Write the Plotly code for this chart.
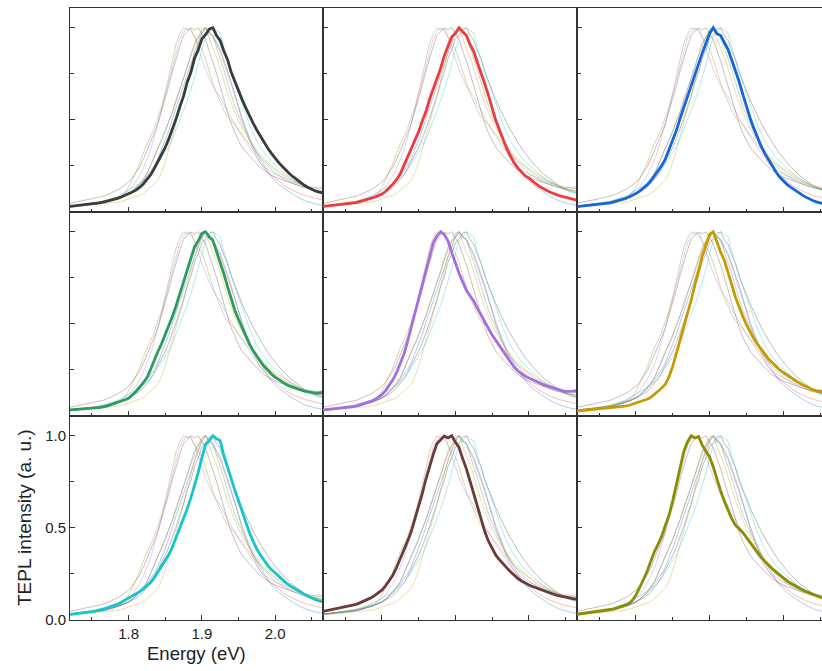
import plotly.graph_objects as go
from plotly.subplots import make_subplots

# Photon-energy sampling grid (eV)
energy = [round(1.720 + 0.005 * i, 3) for i in range(70)]

# Normalised TEPL spectra, one per tip position
tepl_grey = [0.031, 0.033, 0.034, 0.036, 0.038, 0.040, 0.043, 0.046, 0.050, 0.054,
             0.058, 0.062, 0.068, 0.074, 0.081, 0.089, 0.097, 0.108, 0.119, 0.133,
             0.152, 0.175, 0.201, 0.236, 0.272, 0.310, 0.350, 0.398, 0.448, 0.508,
             0.572, 0.629, 0.704, 0.757, 0.834, 0.879, 0.939, 0.962, 0.992, 1.000,
             0.958, 0.931, 0.874, 0.828, 0.759, 0.708, 0.652, 0.610, 0.565, 0.520,
             0.482, 0.445, 0.410, 0.378, 0.346, 0.318, 0.292, 0.268, 0.247, 0.226,
             0.206, 0.190, 0.174, 0.159, 0.145, 0.133, 0.123, 0.114, 0.108, 0.104]
tepl_red = [0.031, 0.033, 0.034, 0.036, 0.038, 0.040, 0.042, 0.045, 0.048, 0.051,
            0.056, 0.061, 0.067, 0.074, 0.080, 0.088, 0.097, 0.111, 0.130, 0.151,
            0.175, 0.207, 0.252, 0.300, 0.346, 0.390, 0.435, 0.494, 0.545, 0.613,
            0.668, 0.722, 0.780, 0.848, 0.898, 0.951, 0.968, 1.000, 0.979, 0.958,
            0.908, 0.870, 0.810, 0.755, 0.695, 0.633, 0.568, 0.496, 0.445, 0.390,
            0.342, 0.302, 0.265, 0.238, 0.214, 0.196, 0.184, 0.166, 0.151, 0.137,
            0.125, 0.115, 0.106, 0.097, 0.091, 0.085, 0.080, 0.075, 0.070, 0.065]
tepl_blue = [0.029, 0.031, 0.033, 0.035, 0.037, 0.039, 0.041, 0.044, 0.047, 0.050,
             0.055, 0.060, 0.065, 0.072, 0.080, 0.089, 0.100, 0.113, 0.129, 0.146,
             0.168, 0.195, 0.223, 0.252, 0.288, 0.338, 0.390, 0.443, 0.508, 0.568,
             0.625, 0.684, 0.740, 0.800, 0.862, 0.914, 0.969, 1.000, 0.968, 0.957,
             0.918, 0.883, 0.826, 0.770, 0.709, 0.640, 0.572, 0.510, 0.455, 0.405,
             0.357, 0.318, 0.282, 0.248, 0.218, 0.190, 0.167, 0.150, 0.135, 0.120,
             0.107, 0.094, 0.082, 0.070, 0.062, 0.055, 0.048, 0.044, 0.040, 0.038]
tepl_green = [0.033, 0.034, 0.035, 0.036, 0.038, 0.040, 0.042, 0.044, 0.046, 0.049,
              0.054, 0.060, 0.066, 0.073, 0.080, 0.088, 0.096, 0.112, 0.133, 0.156,
              0.180, 0.207, 0.252, 0.305, 0.350, 0.392, 0.440, 0.490, 0.543, 0.600,
              0.663, 0.728, 0.792, 0.858, 0.918, 0.949, 0.991, 1.000, 0.972, 0.953,
              0.892, 0.841, 0.772, 0.703, 0.632, 0.574, 0.525, 0.478, 0.432, 0.390,
              0.355, 0.323, 0.296, 0.270, 0.248, 0.228, 0.211, 0.197, 0.184, 0.172,
              0.162, 0.154, 0.147, 0.141, 0.135, 0.130, 0.125, 0.124, 0.126, 0.128]
tepl_purple = [0.033, 0.035, 0.036, 0.038, 0.040, 0.042, 0.045, 0.048, 0.051, 0.055,
               0.060, 0.066, 0.072, 0.079, 0.088, 0.100, 0.116, 0.138, 0.165, 0.196,
               0.235, 0.280, 0.335, 0.405, 0.480, 0.563, 0.644, 0.718, 0.790, 0.868,
               0.941, 0.976, 1.000, 0.984, 0.949, 0.888, 0.830, 0.775, 0.728, 0.682,
               0.652, 0.624, 0.584, 0.546, 0.510, 0.475, 0.440, 0.410, 0.380, 0.351,
               0.321, 0.290, 0.264, 0.245, 0.230, 0.216, 0.206, 0.196, 0.187, 0.178,
               0.170, 0.163, 0.156, 0.149, 0.143, 0.138, 0.134, 0.133, 0.135, 0.138]
tepl_gold = [0.027, 0.029, 0.030, 0.031, 0.033, 0.035, 0.037, 0.039, 0.041, 0.043,
             0.045, 0.048, 0.050, 0.053, 0.057, 0.063, 0.069, 0.076, 0.083, 0.091,
             0.100, 0.116, 0.135, 0.152, 0.172, 0.215, 0.269, 0.338, 0.410, 0.480,
             0.553, 0.628, 0.710, 0.795, 0.868, 0.925, 0.985, 1.000, 0.941, 0.889,
             0.845, 0.785, 0.714, 0.646, 0.590, 0.541, 0.495, 0.455, 0.420, 0.390,
             0.362, 0.336, 0.310, 0.290, 0.270, 0.251, 0.236, 0.222, 0.209, 0.196,
             0.184, 0.172, 0.161, 0.151, 0.143, 0.138, 0.134, 0.131, 0.129, 0.128]
tepl_cyan = [0.031, 0.033, 0.036, 0.038, 0.041, 0.043, 0.046, 0.050, 0.053, 0.059,
             0.065, 0.071, 0.077, 0.086, 0.096, 0.107, 0.118, 0.130, 0.142, 0.154,
             0.169, 0.185, 0.203, 0.230, 0.262, 0.290, 0.322, 0.355, 0.398, 0.448,
             0.498, 0.550, 0.603, 0.663, 0.730, 0.800, 0.880, 0.951, 0.972, 1.000,
             0.984, 0.973, 0.894, 0.825, 0.768, 0.705, 0.645, 0.585, 0.525, 0.474,
             0.428, 0.385, 0.352, 0.322, 0.295, 0.274, 0.255, 0.236, 0.219, 0.202,
             0.188, 0.175, 0.162, 0.150, 0.139, 0.129, 0.119, 0.110, 0.104, 0.100]
tepl_brown = [0.047, 0.051, 0.055, 0.060, 0.064, 0.068, 0.072, 0.076, 0.080, 0.085,
              0.093, 0.101, 0.110, 0.120, 0.132, 0.146, 0.162, 0.185, 0.212, 0.243,
              0.285, 0.330, 0.378, 0.428, 0.480, 0.545, 0.615, 0.686, 0.765, 0.835,
              0.900, 0.958, 0.978, 0.999, 0.988, 1.000, 0.966, 0.936, 0.875, 0.820,
              0.753, 0.683, 0.610, 0.540, 0.480, 0.428, 0.387, 0.352, 0.327, 0.303,
              0.283, 0.262, 0.241, 0.225, 0.212, 0.200, 0.190, 0.182, 0.174, 0.167,
              0.159, 0.152, 0.145, 0.138, 0.132, 0.127, 0.122, 0.118, 0.116, 0.114]
tepl_olive = [0.031, 0.034, 0.036, 0.039, 0.041, 0.044, 0.047, 0.050, 0.053, 0.057,
              0.061, 0.067, 0.073, 0.080, 0.088, 0.105, 0.135, 0.175, 0.220, 0.262,
              0.318, 0.370, 0.410, 0.455, 0.515, 0.570, 0.648, 0.735, 0.830, 0.915,
              0.966, 1.000, 0.988, 0.996, 0.949, 0.915, 0.885, 0.830, 0.762, 0.700,
              0.645, 0.595, 0.550, 0.515, 0.495, 0.475, 0.448, 0.420, 0.395, 0.368,
              0.340, 0.318, 0.297, 0.278, 0.261, 0.243, 0.226, 0.212, 0.199, 0.187,
              0.176, 0.166, 0.156, 0.147, 0.139, 0.131, 0.124, 0.119, 0.115, 0.111]

spectra = [tepl_grey, tepl_red, tepl_blue,
           tepl_green, tepl_purple, tepl_gold,
           tepl_cyan, tepl_brown, tepl_olive]
colors = ["#3c3c3c", "#ef3b3b", "#1566da",
          "#2a9d5c", "#a66fe0", "#c99a00",
          "#14c6cb", "#6d3a3a", "#8b8d00"]

x_ticks = [1.8, 1.9, 2.0]
y_ticks = [0.0, 0.5, 1.0]

fig = make_subplots(rows=3, cols=3, column_widths=[253, 254, 245],
                    horizontal_spacing=0, vertical_spacing=0)

for k in range(9):
    r, c = k // 3 + 1, k % 3 + 1
    # all spectra as faint background traces
    for s, col in zip(spectra, colors):
        fig.add_trace(go.Scatter(x=energy, y=s, mode="lines",
                                 line=dict(color=col, width=1), opacity=0.33,
                                 hoverinfo="skip", showlegend=False), row=r, col=c)
    # highlighted spectrum of this panel
    fig.add_trace(go.Scatter(x=energy, y=spectra[k], mode="lines",
                             line=dict(color=colors[k], width=2.8),
                             showlegend=False), row=r, col=c)

axis_color = "#333333"
font = "Liberation Sans, Arial, sans-serif"

for k in range(9):
    r, c = k // 3 + 1, k % 3 + 1
    labelled = (r == 3 and c == 1)
    x_max = 2.0526 if c == 3 else 2.0654
    fig.update_xaxes(range=[1.72, x_max], showline=True, linecolor=axis_color,
                     linewidth=1, mirror=True, ticks="inside", ticklen=5,
                     tickwidth=1, tickcolor=axis_color, tickvals=x_ticks,
                     ticktext=[f"{v:.1f}" for v in x_ticks],
                     showticklabels=labelled, showgrid=False, zeroline=False,
                     minor=dict(ticks="inside", ticklen=3, dtick=0.05,
                                tick0=1.75, tickcolor=axis_color, showgrid=False),
                     tickfont=dict(family=font, size=15, color="#222222"),
                     row=r, col=c)
    fig.update_yaxes(range=[0, 1.107], showline=True, linecolor=axis_color,
                     linewidth=1, mirror=(c != 3), ticks="inside", ticklen=5,
                     tickwidth=1, tickcolor=axis_color, tickvals=y_ticks,
                     ticktext=[f"{v:.1f}" for v in y_ticks],
                     showticklabels=labelled, showgrid=False, zeroline=False,
                     minor=dict(ticks="inside", ticklen=4, dtick=0.25,
                                tick0=0, tickcolor=axis_color, showgrid=False),
                     tickfont=dict(family=font, size=15, color="#222222"),
                     row=r, col=c)

# axis titles for the labelled (bottom-left) panel
fig.add_annotation(text="Energy (eV)", xref="paper", yref="paper",
                   x=126.5 / 752, y=-33 / 612, xanchor="center", yanchor="middle",
                   showarrow=False, font=dict(family=font, size=18.5, color="#222222"))
fig.add_annotation(text="TEPL intensity (a. u.)", xref="paper", yref="paper",
                   x=-46 / 752, y=102 / 612, xanchor="center", yanchor="middle",
                   textangle=-90, showarrow=False,
                   font=dict(family=font, size=19, color="#222222"))

fig.update_layout(width=822, height=671, plot_bgcolor="white", paper_bgcolor="white",
                  margin=dict(l=70, r=0, t=8, b=51), showlegend=False)

fig.write_html("out.html")
